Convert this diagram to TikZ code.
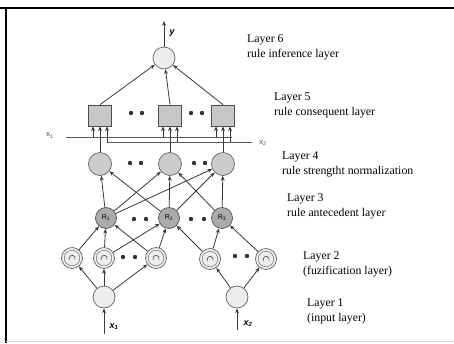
\documentclass[tikz,border=0pt]{standalone}
\usepackage{fontspec}
\setmainfont{Liberation Serif}
\setsansfont{Liberation Sans}
\usetikzlibrary{arrows.meta}
\begin{document}
\begin{tikzpicture}[x=1pt,y=-1pt,
  arr/.style={-{Stealth[length=4.8pt,width=3.8pt]}, draw=black!78, line width=0.8pt},
  ln/.style={draw=black!65, line width=0.7pt},
  lightc/.style={circle, draw=black!62, fill=black!7, line width=0.7pt, minimum size=22pt, inner sep=0pt},
  l4c/.style={circle, draw=black!62, fill=black!20, line width=0.7pt, minimum size=23pt, inner sep=0pt},
  rc/.style={circle, draw=black!68, fill=black!33, line width=0.7pt, minimum size=21pt, inner sep=0pt, font=\sffamily\scriptsize},
  mfc/.style={circle, draw=black!62, fill=black!7, line width=0.7pt, minimum size=21pt, inner sep=0pt},
  sq/.style={rectangle, draw=black!70, fill=black!22, line width=0.7pt, minimum width=23pt, minimum height=21pt, inner sep=0pt},
  dotn/.style={circle, fill=black!80, minimum size=4.4pt, inner sep=0pt},
  lay/.style={anchor=west, align=left, font=\fontsize{11.8}{15}\selectfont, inner sep=0pt},
  lin/.style={font=\sffamily\fontsize{7.5}{8}\selectfont, text=black!75, inner sep=0pt},
  inl/.style={font=\sffamily\bfseries\itshape\fontsize{9}{9}\selectfont, inner sep=0pt}
]
\useasboundingbox (0,0) rectangle (454,343);
% frame
\draw[line width=1.5pt] (0,8) -- (454,8);
\draw[line width=1.5pt] (6,8) -- (6,343);
\draw[black!15, line width=0.8pt] (6,341) -- (454,341);

% layer 6
\node[lightc] (L6) at (164,58) {};
\coordinate (yout) at (164,21);
\draw[arr] (L6) -- (yout);
\node[inl] (ylab) at (172,33) {y};

% layer 5
\node[sq] (s1) at (100,115.5) {};
\node[sq] (s2) at (170,115.5) {};
\node[sq] (s3) at (223,115.5) {};
\foreach \n/\x/\y in {d51/131/113, d52/142/113, d53/191/113, d54/202/113,
                      d41/130/163, d42/141/163, d43/194/163, d44/205/163,
                      d31/134/219, d32/146/219, d33/191/219, d34/204/219,
                      d21/123/257, d22/135/257, d23/235/256, d24/247/256}
  \node[dotn] (\n) at (\x,\y) {};

% x1 / x2 lines
\coordinate (x1s) at (66,137);
\coordinate (x1e) at (232,137);
\coordinate (x2s) at (107,142);
\coordinate (x2e) at (252,142);
\draw[ln] (x1s) -- (x1e);
\draw[ln] (x2s) -- (x2e);
\node[lin] (x1lab) at (50,135.5) {x\textsubscript{1}};
\node[lin] (x2lab) at (263,143) {x\textsubscript{2}};
\foreach \s/\xa/\xb in {s1/93/107, s2/163/177, s3/216/230} {
  \coordinate (\s a) at (\xa,137);
  \coordinate (\s b) at (\xb,142);
  \draw[arr] (\s a) -- (\s a |- \s.south);
  \draw[arr] (\s b) -- (\s b |- \s.south);
}

% layer 4
\node[l4c] (c1) at (100,164) {};
\node[l4c] (c2) at (170,164) {};
\node[l4c] (c3) at (223,164) {};
\draw[arr] (c1) -- (s1);
\draw[arr] (c2) -- (s2);
\draw[arr] (c3) -- (s3);

% layer 5 -> 6
\draw[arr] (s1.north) -- (L6);
\draw[arr] (s2.north) -- (L6);
\draw[arr] (s3.north) -- (L6);

% layer 3
\node[rc] (r1) at (106,218) {R\textsubscript{1}};
\node[rc] (r2) at (169,218) {R\textsubscript{2}};
\node[rc] (r3) at (222,218) {R\textsubscript{3}};
\draw[arr] (r1) -- (c1);
\draw[arr] (r1) -- (c2);
\draw[arr] (r1) -- (c3);
\draw[arr] (r2) -- (c1);
\draw[arr] (r2) -- (c2);
\draw[arr] (r2) -- (c3);
\draw[arr] (r3) -- (c2);
\draw[arr] (r3) -- (c3);

% layer 2
\node[mfc] (m1) at (72,258) {};
\node[mfc] (m2) at (104,258) {};
\node[mfc] (m3) at (156,258) {};
\node[mfc] (m4) at (210,259) {};
\node[mfc] (m5) at (266,259) {};
\foreach \m in {m1,m2,m3,m4,m5} {
  \draw[black!55, line width=0.5pt] (\m.center) circle (7.8pt);
  \draw[black!70, line width=0.65pt] ([shift={(-2.6,2.0)}]\m.center) arc[start angle=210, end angle=-20, radius=3.1pt];
}
\draw[arr] (m1) -- (r1);
\draw[arr] (m2) -- (r1);
\draw[arr] (m2) -- (r2);
\draw[arr] (m3) -- (r1);
\draw[arr] (m3) -- (r2);
\draw[arr] (m4) -- (r2);
\draw[arr] (m4) -- (r3);
\draw[arr] (m5) -- (r3);

% layer 1
\node[lightc] (i1) at (104,297) {};
\node[lightc] (i2) at (237,297) {};
\draw[arr] (i1) -- (m1);
\draw[arr] (i1) -- (m2);
\draw[arr] (i1) -- (m3);
\draw[arr] (i2) -- (m4);
\draw[arr] (i2) -- (m5);
\coordinate (in1) at (104,334);
\coordinate (in2) at (237,330);
\draw[arr] (in1) -- (i1);
\draw[arr] (in2) -- (i2);
\node[inl] (x1in) at (114,327) {x\textsubscript{1}};
\node[inl] (x2in) at (248,324) {x\textsubscript{2}};

% layer labels
\node[lay] (t6) at (247,47.5) {Layer 6\\rule inference layer};
\node[lay] (t5) at (274,105.5) {Layer 5\\rule consequent layer};
\node[lay] (t4) at (282,164.5) {Layer 4\\rule strengtht normalization};
\node[lay] (t3) at (287,206) {Layer 3\\rule antecedent layer};
\node[lay] (t2) at (303,264.5) {Layer 2\\(fuzification layer)};
\node[lay] (t1) at (307,311) {Layer 1\\(input layer)};
\end{tikzpicture}
\end{document}
